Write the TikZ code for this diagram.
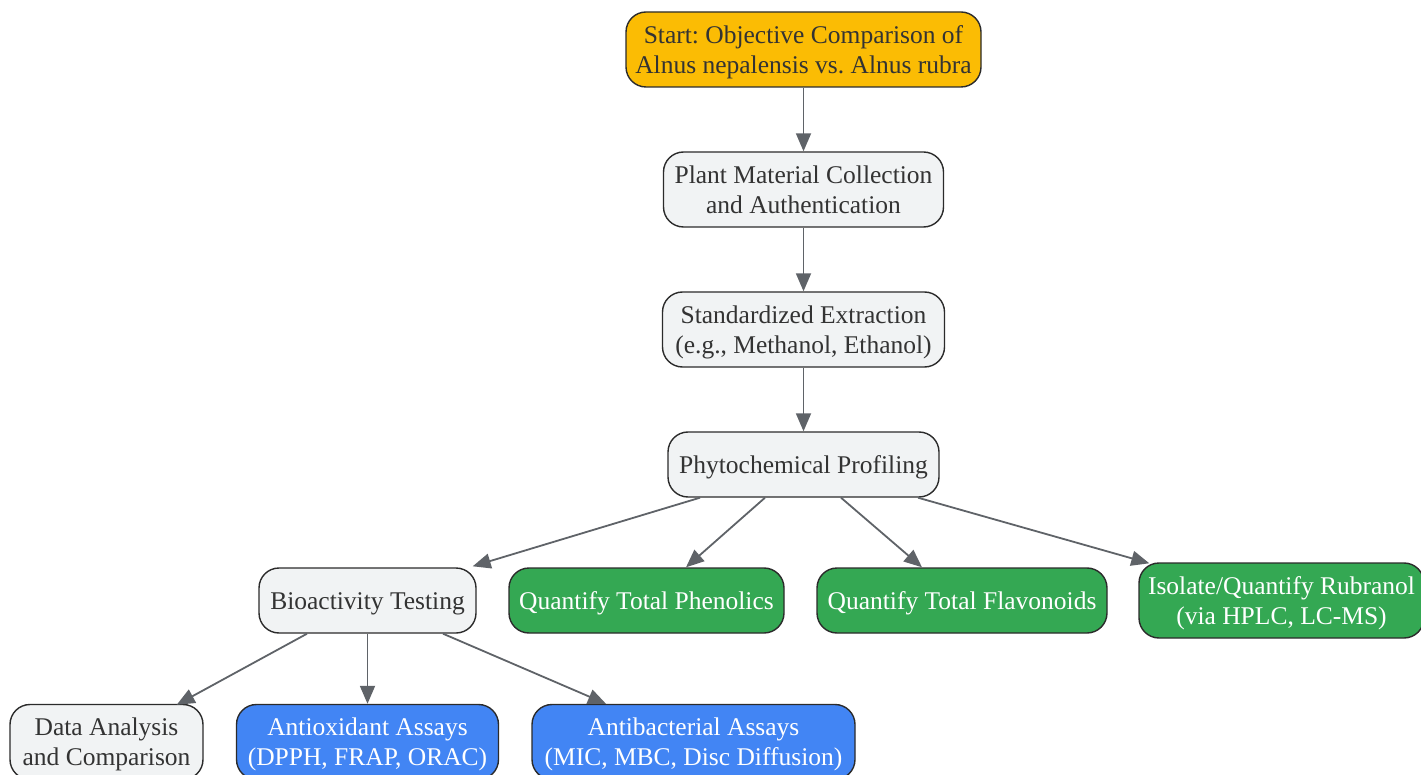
\documentclass[tikz,border=0pt]{standalone}
\usepackage{fontspec}
\setmainfont{Liberation Serif}
\usetikzlibrary{arrows.meta}
\definecolor{lightfill}{HTML}{F1F3F4}
\definecolor{bordercol}{HTML}{2B2B2B}
\definecolor{gold}{HTML}{FBBC04}
\definecolor{gfill}{HTML}{34A853}
\definecolor{bfill}{HTML}{4285F4}
\definecolor{arrcol}{HTML}{5F6368}
\definecolor{txt}{HTML}{333333}
\newcommand\mytopstr{\rule{0pt}{23.6pt}}
\newcommand\mybotstr{\rule[-6.4pt]{0pt}{6.4pt}}
\frenchspacing
\tikzset{
  box/.style={draw=bordercol, line width=1.4pt, rounded corners=20pt, align=center, inner sep=0pt,
    font=\rmfamily\fontsize{25.5}{30}\selectfont\frenchspacing, text=txt},
  plain/.style={box, fill=lightfill},
  startbox/.style={box, fill=gold},
  greenbox/.style={box, fill=gfill, text=white},
  bluebox/.style={box, fill=bfill, text=white},
  arr/.style={draw=arrcol, line width=1.8pt, -{Triangle[length=18pt,width=15pt]}},
}
\begin{document}
\begin{tikzpicture}[x=1pt,y=-1pt]
\useasboundingbox (0,0) rectangle (1421,775);
\begin{scope}
\clip (0,0) rectangle (1421,775);
\node[startbox, minimum width=355pt, minimum height=75pt] (start) at (803.5,49.5) {\mytopstr Start: Objective Comparison of\\Alnus nepalensis vs. Alnus rubra\mybotstr};
\node[plain, minimum width=280pt, minimum height=75pt] (plant) at (803.5,189.5) {\mytopstr Plant Material Collection\\and Authentication\mybotstr};
\node[plain, minimum width=282pt, minimum height=75pt] (extr) at (803.5,329.5) {\mytopstr Standardized Extraction\\(e.g., Methanol, Ethanol)\mybotstr};
\node[plain, minimum width=271pt, minimum height=65pt] (phyto) at (803.5,464.5) {\mytopstr Phytochemical Profiling\mybotstr};
\node[plain, minimum width=217pt, minimum height=65pt] (bio) at (367.5,600.5) {\mytopstr Bioactivity Testing\mybotstr};
\node[greenbox, minimum width=275pt, minimum height=65pt] (phen) at (646.5,600.5) {\mytopstr Quantify Total Phenolics\mybotstr};
\node[greenbox, minimum width=290pt, minimum height=65pt] (flav) at (962,600.5) {\mytopstr Quantify Total Flavonoids\mybotstr};
\node[greenbox, minimum width=285pt, minimum height=75pt] (iso) at (1281.5,600.5) {\mytopstr Isolate/Quantify Rubranol\\(via HPLC, LC-MS)\mybotstr};
\node[plain, minimum width=193pt, minimum height=75pt] (data) at (106.5,742) {\mytopstr Data Analysis\\and Comparison\mybotstr};
\node[bluebox, minimum width=262pt, minimum height=75pt] (anti) at (367.5,742) {\mytopstr Antioxidant Assays\\(DPPH, FRAP, ORAC)\mybotstr};
\node[bluebox, minimum width=323pt, minimum height=75pt] (antib) at (693.5,742) {\mytopstr Antibacterial Assays\\(MIC, MBC, Disc Diffusion)\mybotstr};
\end{scope}
\draw[arr] (start) -- (plant);
\draw[arr] (plant) -- (extr);
\draw[arr] (extr) -- (phyto);
\draw[arr] ([xshift=-103.5pt]phyto.south) -- ([xshift=-4pt,yshift=1pt]bio.north east);
\draw[arr] ([xshift=-38.5pt]phyto.south) -- ([xshift=39.5pt]phen.north);
\draw[arr] ([xshift=37.5pt]phyto.south) -- ([xshift=-40pt]flav.north);
\draw[arr] ([xshift=114.5pt]phyto.south) -- ([xshift=11pt,yshift=-1pt]iso.north west);
\draw[arr] ([xshift=-60.5pt]bio.south) -- ([xshift=-27pt,yshift=-1pt]data.north east);
\draw[arr] (bio.south) -- (anti.north);
\draw[arr] ([xshift=75.5pt]bio.south) -- ([xshift=-87.5pt]antib.north);
\end{tikzpicture}
\end{document}
